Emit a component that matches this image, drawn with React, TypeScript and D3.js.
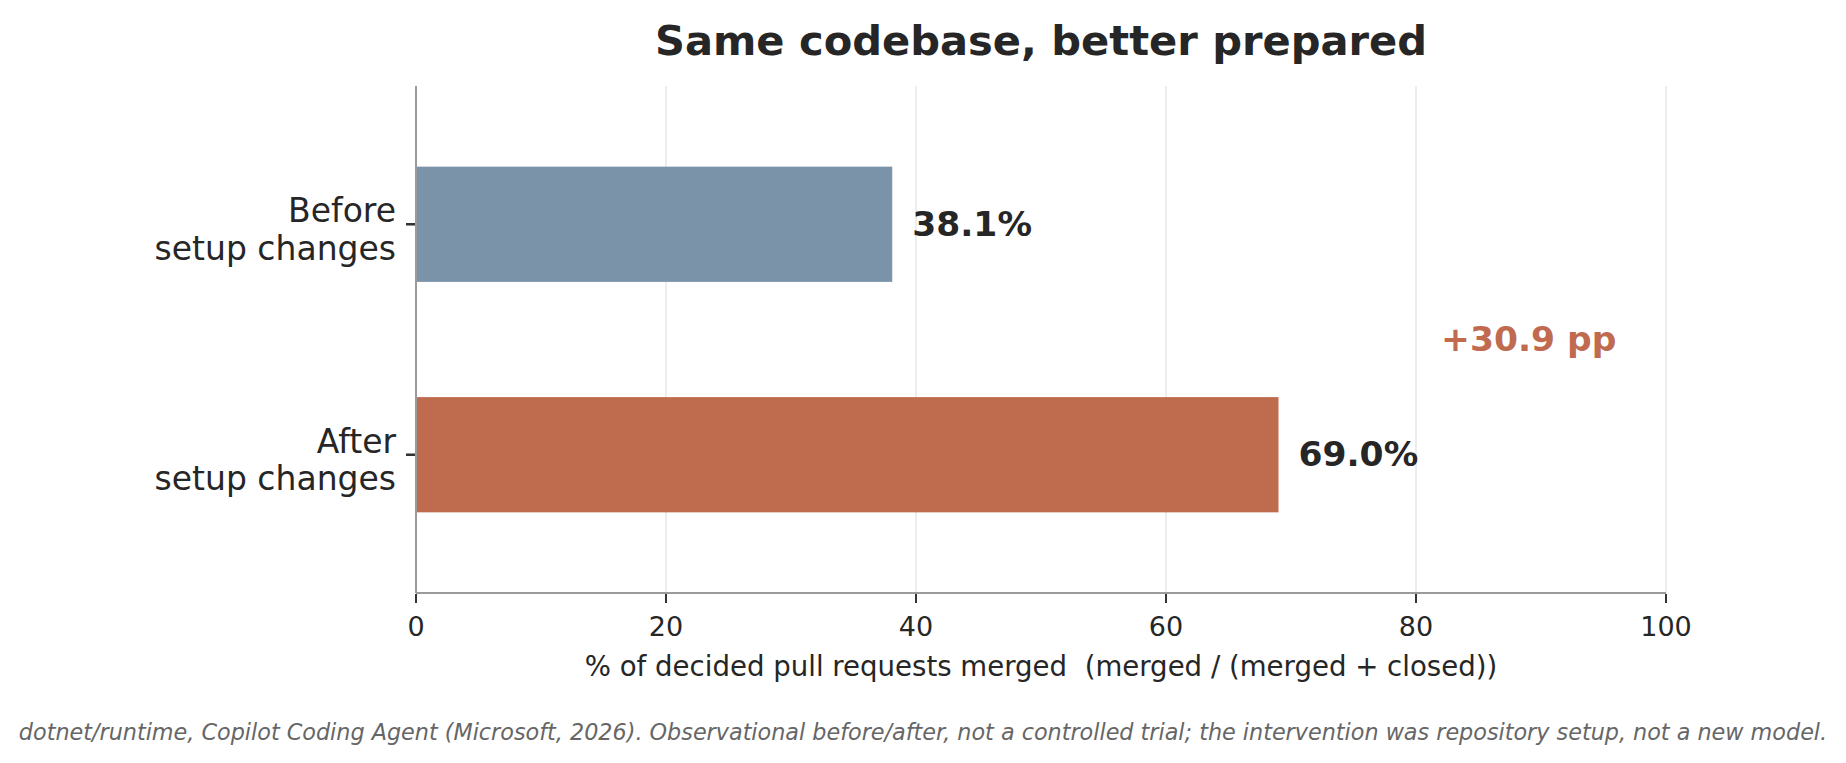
import React from 'react';
import * as d3 from 'd3';

// merge rate before / after the repository setup changes
const categories = ['Before\nsetup changes', 'After\nsetup changes'];
const mergeRates = [38.1, 69.0];
const barColors = ['#7b93a8', '#bf6b4e'];
const xTicks = [0, 20, 40, 60, 80, 100];

const W = 1846;
const H = 763;
const margin = { top: 86, right: 180, bottom: 170, left: 416 };
const FONT = "'DejaVu Sans', sans-serif";
const INK = '#262626';
const ACCENT = '#c06b4f';

const App = () => {
    const innerW = W - margin.left - margin.right;
    const innerH = H - margin.top - margin.bottom;

    const x = d3.scaleLinear().domain([0, 100]).range([0, innerW]);
    // categorical axis with matplotlib-like padding: centers at 0 and 1
    const y = d3.scaleLinear().domain([-0.6, 1.6]).range([0, innerH]);
    const barH = y(0.5) - y(0);

    const delta = d3.format('.1f')(mergeRates[1] - mergeRates[0]);

    return (
        <svg
            width={W}
            height={H}
            style={{ position: 'absolute', left: 0, top: 0, background: '#fff' }}
            fontFamily={FONT}
        >
            <text x={margin.left + innerW / 2} y={54.5} textAnchor="middle"
                fontSize={41.6} fontWeight="bold" fill={INK}>
                Same codebase, better prepared
            </text>

            <g transform={`translate(${margin.left},${margin.top})`}>
                {/* vertical gridlines */}
                {xTicks.map(t => (
                    <line key={t} x1={x(t)} x2={x(t)} y1={0} y2={innerH}
                        stroke="#e3e3e3" strokeWidth={1.3} />
                ))}

                {mergeRates.map((v, i) => (
                    <g key={i}>
                        <rect x={x(0)} y={y(i) - barH / 2} width={x(v) - x(0)} height={barH}
                            fill={barColors[i]} />
                        <text x={x(v) + 20} y={y(i) + 11.5} fontSize={34.5}
                            fontWeight="bold" fill={INK}>
                            {v.toFixed(1)}%
                        </text>
                    </g>
                ))}

                <text x={x(82)} y={y(0.5) + 11.5} fontSize={34.5} fontWeight="bold" fill={ACCENT}>
                    +{delta} pp
                </text>

                {/* spines */}
                <line x1={0} x2={0} y1={0} y2={innerH} stroke="#9a9a9a" strokeWidth={2} />
                <line x1={0} x2={innerW} y1={innerH} y2={innerH} stroke="#9a9a9a" strokeWidth={2} />

                {/* x ticks */}
                {xTicks.map(t => (
                    <g key={t} transform={`translate(${x(t)},${innerH})`}>
                        <line y1={1} y2={10} stroke="#333" strokeWidth={2} />
                        <text y={43} textAnchor="middle" fontSize={27} fill={INK}>{t}</text>
                    </g>
                ))}

                {/* y ticks and two-line category labels */}
                {categories.map((c, i) => (
                    <g key={c} transform={`translate(0,${y(i)})`}>
                        <line x1={-10} x2={-1} stroke="#333" strokeWidth={2.5} />
                        <text textAnchor="end" fontSize={33} fill={INK}>
                            {c.split('\n').map((line, j) => (
                                <tspan key={j} x={-20} y={-2 + j * 37.5}>{line}</tspan>
                            ))}
                        </text>
                    </g>
                ))}

                <text x={innerW / 2} y={innerH + 83} textAnchor="middle" fontSize={27.6} fill={INK}
                    style={{ whiteSpace: 'pre' }}>
                    {'% of decided pull requests merged  (merged / (merged + closed))'}
                </text>
            </g>

            <text x={W / 2} y={740} textAnchor="middle" fontSize={22.3}
                fontStyle="italic" fill="#666">
                dotnet/runtime, Copilot Coding Agent (Microsoft, 2026). Observational before/after, not a controlled trial; the intervention was repository setup, not a new model.
            </text>
        </svg>
    );
};

export default App;
